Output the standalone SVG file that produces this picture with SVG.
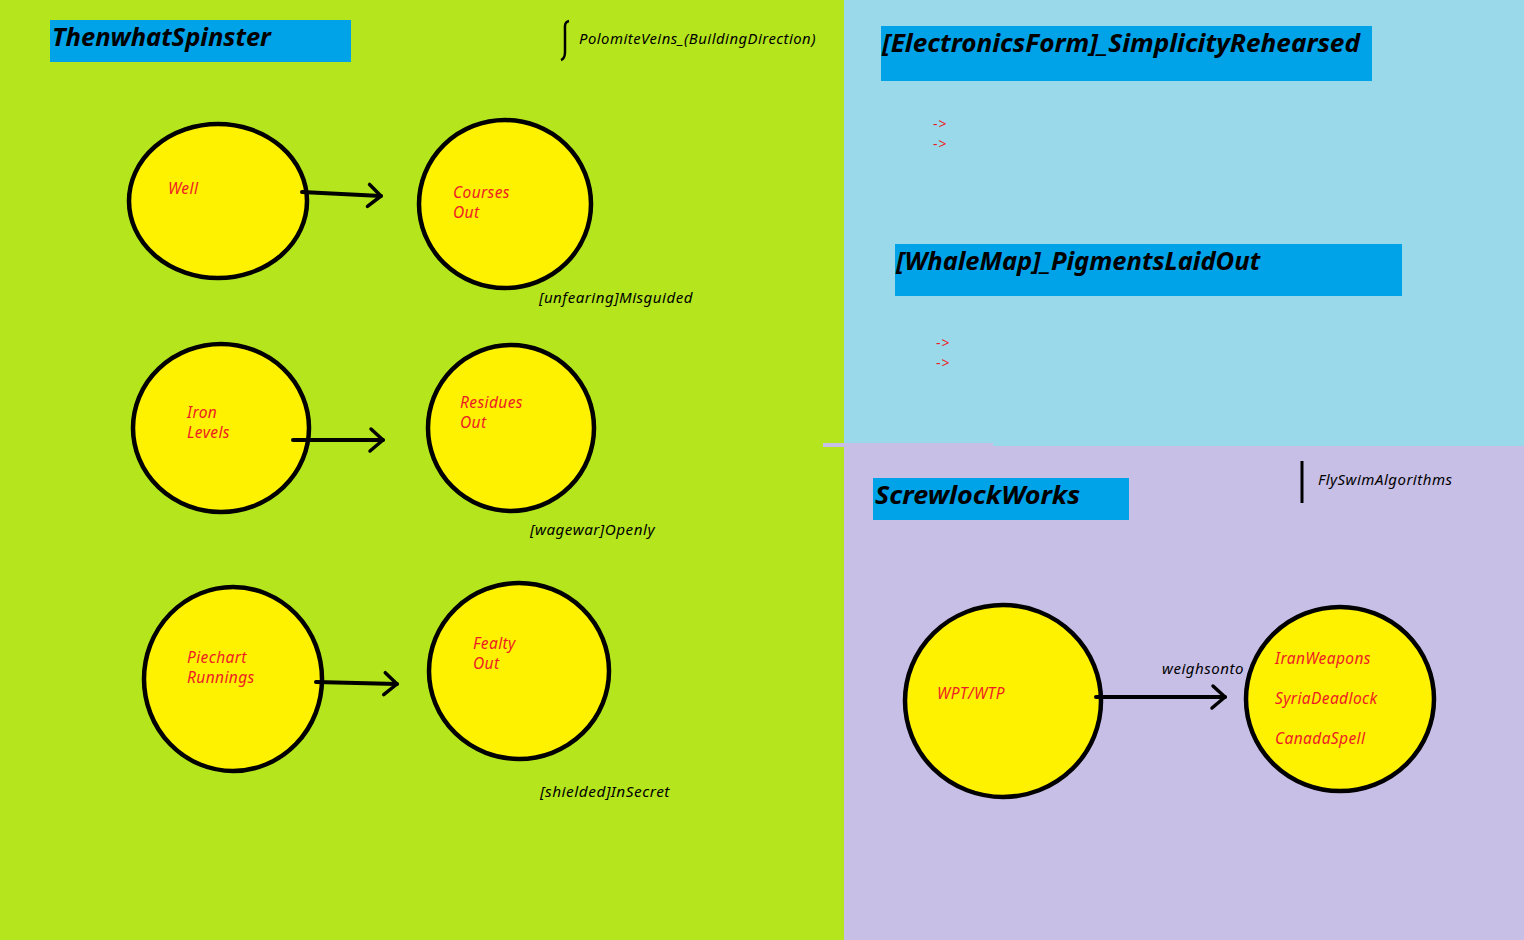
<svg xmlns="http://www.w3.org/2000/svg" width="1524" height="940" viewBox="0 0 1524 940">
<defs>
<style>
.title{font-family:"Noto Sans","Liberation Sans",sans-serif;font-weight:bold;font-style:italic;font-size:25.5px;fill:#000}
.tbox{fill:#00A2E8}
.node{fill:#FFF200;stroke:#000;stroke-width:4.5}
.nt{font-family:"Noto Sans","Liberation Sans",sans-serif;font-style:italic;font-size:15.5px;letter-spacing:0.4px;fill:#ED1C24}
.lbl{font-family:"Noto Sans","Liberation Sans",sans-serif;font-style:italic;font-size:15px;letter-spacing:0.5px;fill:#000}
.edge{stroke:#000;stroke-width:4;stroke-linecap:round;fill:none}
.ra{font-family:"Noto Sans","Liberation Sans",sans-serif;font-size:14px;letter-spacing:1px;fill:#ED1C24}
</style>
<marker id="chev" markerUnits="userSpaceOnUse" markerWidth="30" markerHeight="30" viewBox="-20 -15 30 30" refX="0" refY="0" orient="auto" overflow="visible">
<path d="M-12,-11 L0,0 L-13,11" fill="none" stroke="#000" stroke-width="3.5" stroke-linecap="round" stroke-linejoin="round"/>
</marker>
</defs>
<g id="background">
<rect x="0" y="0" width="844" height="940" fill="#B5E61D"/>
<rect x="844" y="0" width="680" height="446" fill="#99D9EA"/>
<rect x="844" y="446" width="680" height="494" fill="#C8BFE7"/>
<rect x="823" y="443" width="170" height="4" fill="#C8BFE7"/>
</g>
<g id="title-thenwhat">
<rect class="tbox" x="50" y="20" width="301" height="42"/>
<text class="title" x="52" y="46">ThenwhatSpinster</text>
</g>
<g id="title-electronics">
<rect class="tbox" x="881" y="26" width="491" height="55"/>
<text class="title" x="882" y="52" textLength="478" lengthAdjust="spacingAndGlyphs">[ElectronicsForm]_SimplicityRehearsed</text>
<text class="ra" x="933" y="129">-&gt;</text>
<text class="ra" x="933" y="149">-&gt;</text>
</g>
<g id="title-whalemap">
<rect class="tbox" x="895" y="244" width="507" height="52"/>
<text class="title" x="896" y="270">[WhaleMap]_PigmentsLaidOut</text>
<text class="ra" x="936" y="348">-&gt;</text>
<text class="ra" x="936" y="368">-&gt;</text>
</g>
<g id="title-screwlock">
<rect class="tbox" x="873" y="478" width="256" height="42"/>
<text class="title" x="875" y="504" textLength="205" lengthAdjust="spacingAndGlyphs">ScrewlockWorks</text>
</g>
<g id="note-polomite">
<path d="M569,21 C564,22 565,26 565,32 L565,52 C565,57 564,59 561,60" fill="none" stroke="#000" stroke-width="2.5"/>
<text class="lbl" x="579" y="44" textLength="237" lengthAdjust="spacingAndGlyphs">PolomiteVeins_(BuildingDirection)</text>
</g>
<g id="note-flyswim">
<line x1="1302" y1="461" x2="1302" y2="503" stroke="#000" stroke-width="3"/>
<text class="lbl" x="1318" y="485">FlySwimAlgorithms</text>
</g>
<g id="node-well">
<ellipse class="node" cx="218" cy="201" rx="89" ry="77"/>
<text class="nt" x="168" y="194">Well</text>
</g>
<g id="node-courses">
<ellipse class="node" cx="505" cy="204" rx="86" ry="84"/>
<text class="nt" x="453" y="198">Courses</text>
<text class="nt" x="453" y="218">Out</text>
</g>
<g id="node-iron">
<ellipse class="node" cx="221" cy="428" rx="88" ry="84"/>
<text class="nt" x="187" y="418">Iron</text>
<text class="nt" x="187" y="438">Levels</text>
</g>
<g id="node-residues">
<ellipse class="node" cx="511" cy="428" rx="83" ry="83"/>
<text class="nt" x="460" y="408">Residues</text>
<text class="nt" x="460" y="428">Out</text>
</g>
<g id="node-piechart">
<ellipse class="node" cx="233" cy="679" rx="89" ry="92"/>
<text class="nt" x="187" y="663">Piechart</text>
<text class="nt" x="187" y="683">Runnings</text>
</g>
<g id="node-fealty">
<ellipse class="node" cx="519" cy="671" rx="90" ry="88"/>
<text class="nt" x="473" y="649">Fealty</text>
<text class="nt" x="473" y="669">Out</text>
</g>
<g id="node-wpt">
<ellipse class="node" cx="1003" cy="701" rx="98" ry="96"/>
<text class="nt" x="937" y="699">WPT/WTP</text>
</g>
<g id="node-iran">
<ellipse class="node" cx="1340" cy="699" rx="94" ry="92"/>
<text class="nt" x="1275" y="664">IranWeapons</text>
<text class="nt" x="1275" y="704">SyriaDeadlock</text>
<text class="nt" x="1275" y="744">CanadaSpell</text>
</g>
<g id="labels">
<text class="lbl" x="539" y="303" textLength="154" lengthAdjust="spacingAndGlyphs">[unfearing]Misguided</text>
<text class="lbl" x="530" y="535" textLength="125" lengthAdjust="spacingAndGlyphs">[wagewar]Openly</text>
<text class="lbl" x="540" y="797" textLength="130" lengthAdjust="spacingAndGlyphs">[shielded]InSecret</text>
<text class="lbl" x="1162" y="674" textLength="82" lengthAdjust="spacingAndGlyphs">weighsonto</text>
</g>
<g id="connectors">
<line class="edge" x1="302" y1="192" x2="381" y2="196" marker-end="url(#chev)"/>
<line class="edge" x1="293" y1="440" x2="383" y2="440" marker-end="url(#chev)"/>
<line class="edge" x1="316" y1="682" x2="397" y2="684" marker-end="url(#chev)"/>
<line class="edge" x1="1096" y1="697" x2="1225" y2="697" marker-end="url(#chev)"/>
</g>
</svg>
